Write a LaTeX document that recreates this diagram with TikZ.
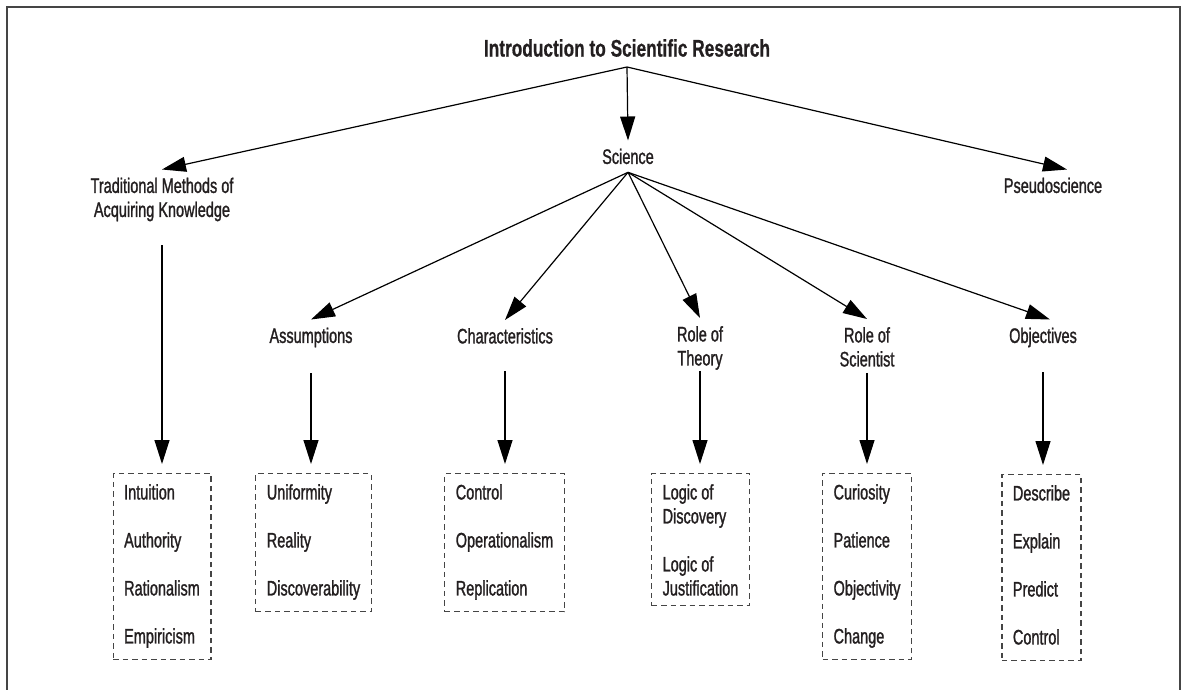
\documentclass[tikz,border=0pt]{standalone}
\usepackage{fontspec}
\setmainfont{Liberation Sans}[FakeStretch=0.69,FakeBold=1.2,BoldFeatures={FakeStretch=0.72,FakeBold=0.6}]
\usetikzlibrary{arrows.meta}
\definecolor{ink}{HTML}{231F20}
\definecolor{framegray}{HTML}{454545}
\tikzset{
 heading/.style={anchor=south,inner sep=10pt,text=ink,font=\fontsize{24}{28}\selectfont\bfseries},
 topic/.style={anchor=north,align=center,inner sep=8pt,text=ink,font=\fontsize{21}{24}\selectfont},
 termset/.style={anchor=north,draw=framegray,dash pattern=on 5.5pt off 4pt,line width=1.3pt,
  inner xsep=11pt,inner ysep=9pt,text=ink,font=\fontsize{21}{24}\selectfont},
 arr/.style={-{Triangle[length=24pt,width=15pt]},line width=1.2pt,draw=black}
}
\newcommand{\topic}[3]{%
 \node[topic] (#1) at (#2) {#3};%
}
\newcommand{\termset}[3]{%
 \node[termset] (#1) at (#2) {\begin{tabular}{@{}l@{}}#3\end{tabular}};%
}
\begin{document}
\begin{tikzpicture}[x=1pt,y=-1pt]
   \useasboundingbox (0,0) rectangle (1186,689);
   \draw[framegray,line width=2pt] (7,7) rectangle (1180,720);
   \node[heading] (title) at (627,67) {Introduction to Scientific Research};
   \topic{trad}{162,169.5}{Traditional Methods of\\Acquiring Knowledge}
   \topic{sci}{628,140.5}{Science}
   \topic{pseudo}{1053,169.5}{Pseudoscience}
   \topic{assump}{311,319.5}{Assumptions}
   \topic{charac}{505,320}{Characteristics}
   \topic{theory}{700,318}{Role of\\Theory}
   \topic{scient}{867,319}{Role of\\Scientist}
   \topic{objec}{1043,319.5}{Objectives}
   \termset{tradset}{162,473}{Intuition\\[24pt] Authority\\[24pt] Rationalism\\[24pt] Empiricism}
   \termset{assumpset}{313.5,473}{Uniformity\\[24pt] Reality\\[24pt] Discoverability}
   \termset{characset}{504.5,473}{Control\\[24pt] Operationalism\\[24pt] Replication}
   \termset{theoryset}{700.5,473}{Logic of\\ Discovery\\[24pt] Logic of\\ Justification\\[-6pt]}
   \termset{scientset}{867,473}{Curiosity\\[24pt] Patience\\[24pt] Objectivity\\[24pt] Change}
   \termset{objecset}{1041.5,474}{Describe\\[24pt] Explain\\[24pt] Predict\\[24pt] Control}
   \path (title.south) edge[arr] (trad.north) edge[arr] (sci.north)
     edge[arr] ([xshift=14pt]pseudo.north);
   \path (sci.south) edge[arr] (assump.north) edge[arr] (charac.north) edge[arr] (theory.north)
     edge[arr] (scient.north) edge[arr] ([xshift=7pt]objec.north);
   \path[every edge/.style={arr,shorten >=9pt}]
     (trad.south) edge[shorten <=16pt] (trad.south |- tradset.north)
     (assump.south) edge[shorten <=18pt] (assump.south |- assumpset.north)
     (charac.south) edge[shorten <=19.5pt] (charac.south |- characset.north)
     (theory.south) edge[shorten <=-7pt] (theory.south |- theoryset.north)
     (scient.south) edge[shorten <=-2pt] (scient.south |- scientset.north)
     (objec.south) edge[shorten <=17pt] (objec.south |- objecset.north);
\end{tikzpicture}
\end{document}
